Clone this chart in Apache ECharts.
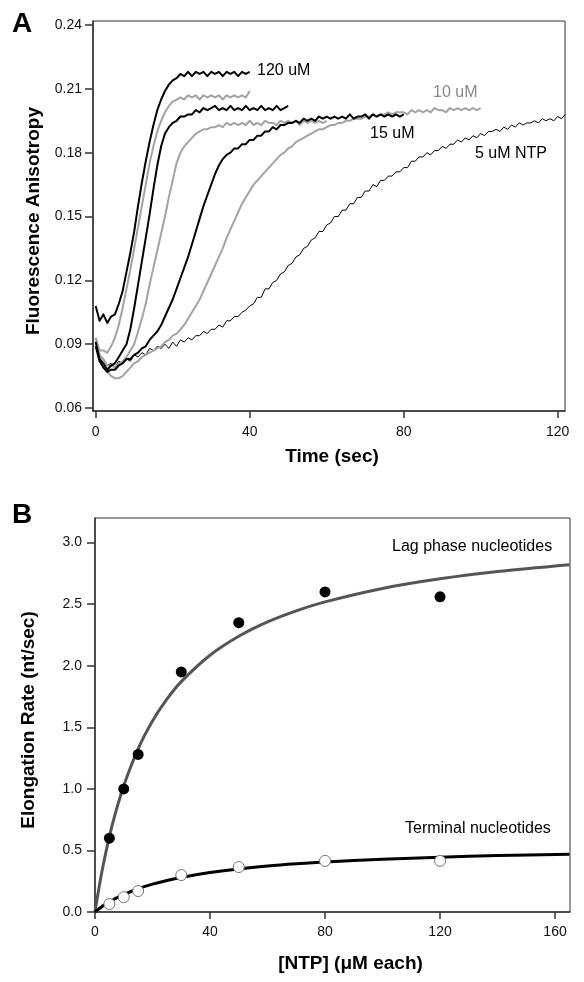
<!DOCTYPE html>
<html><head><meta charset="utf-8">
<script src="https://cdn.jsdelivr.net/npm/echarts@6/dist/echarts.min.js"></script>
<style>html,body{margin:0;padding:0;background:#fff}#c{width:584px;height:982px}</style>
</head><body><div id="c"></div>
<script>
// ---------- Panel A data: anisotropy traces, one sample per second starting at t = 0 ----------
const timeStep = 1;
const trace120 = [0.108,0.101,0.104,0.100,0.103,0.104,0.109,0.115,0.124,0.133,0.143,0.155,0.166,0.176,0.185,0.193,0.200,0.205,0.209,0.212,0.214,0.215,0.217,0.216,0.218,0.216,0.218,0.217,0.218,0.216,0.218,0.217,0.218,0.216,0.218,0.217,0.218,0.216,0.218,0.217,0.218];
const trace80 = [0.093,0.087,0.087,0.086,0.089,0.093,0.099,0.107,0.116,0.125,0.135,0.145,0.155,0.165,0.175,0.183,0.190,0.195,0.199,0.202,0.204,0.205,0.206,0.205,0.207,0.206,0.207,0.205,0.207,0.206,0.207,0.206,0.207,0.205,0.207,0.206,0.207,0.206,0.207,0.206,0.209];
const trace50 = [0.091,0.083,0.081,0.078,0.080,0.081,0.084,0.087,0.090,0.097,0.107,0.118,0.129,0.140,0.151,0.163,0.174,0.183,0.189,0.192,0.194,0.195,0.197,0.197,0.198,0.198,0.200,0.199,0.201,0.200,0.201,0.202,0.200,0.201,0.200,0.202,0.200,0.201,0.200,0.202,0.200,0.201,0.200,0.202,0.200,0.201,0.200,0.202,0.200,0.201,0.202];
const trace30 = [0.091,0.085,0.083,0.080,0.080,0.079,0.081,0.082,0.084,0.087,0.090,0.096,0.102,0.109,0.118,0.126,0.134,0.142,0.150,0.159,0.167,0.175,0.180,0.183,0.185,0.187,0.189,0.190,0.191,0.191,0.192,0.192,0.193,0.192,0.194,0.193,0.194,0.193,0.194,0.193,0.195,0.193,0.194,0.193,0.195,0.194,0.194,0.193,0.195,0.194,0.195,0.194,0.195,0.193,0.195,0.194,0.195,0.194,0.195,0.194,0.195];
const trace15 = [0.089,0.082,0.079,0.077,0.078,0.078,0.080,0.081,0.083,0.083,0.085,0.086,0.088,0.089,0.092,0.094,0.096,0.099,0.103,0.107,0.111,0.116,0.121,0.126,0.131,0.137,0.143,0.149,0.155,0.160,0.165,0.170,0.174,0.177,0.179,0.180,0.182,0.182,0.184,0.184,0.186,0.186,0.188,0.188,0.190,0.190,0.192,0.191,0.193,0.193,0.194,0.194,0.195,0.194,0.196,0.195,0.196,0.195,0.197,0.196,0.197,0.196,0.197,0.196,0.197,0.196,0.198,0.196,0.197,0.197,0.198,0.196,0.198,0.197,0.198,0.197,0.198,0.197,0.198,0.197,0.198];
const trace10 = [0.093,0.085,0.080,0.077,0.075,0.074,0.074,0.075,0.077,0.079,0.081,0.082,0.084,0.085,0.086,0.087,0.088,0.089,0.091,0.092,0.094,0.095,0.097,0.099,0.102,0.105,0.108,0.111,0.115,0.119,0.123,0.127,0.131,0.135,0.140,0.144,0.148,0.152,0.156,0.159,0.162,0.165,0.167,0.169,0.171,0.173,0.175,0.177,0.179,0.180,0.182,0.183,0.185,0.186,0.187,0.188,0.189,0.190,0.191,0.191,0.192,0.193,0.193,0.194,0.194,0.195,0.195,0.196,0.196,0.196,0.197,0.197,0.198,0.197,0.198,0.198,0.199,0.198,0.199,0.199,0.199,0.198,0.200,0.199,0.200,0.199,0.200,0.199,0.201,0.200,0.200,0.199,0.201,0.200,0.201,0.200,0.201,0.200,0.201,0.200,0.201];
const trace5 = [0.091,0.084,0.083,0.080,0.081,0.079,0.082,0.081,0.083,0.082,0.085,0.084,0.086,0.085,0.088,0.087,0.089,0.088,0.090,0.088,0.091,0.089,0.092,0.091,0.093,0.092,0.094,0.094,0.096,0.095,0.097,0.097,0.099,0.098,0.101,0.101,0.103,0.103,0.105,0.106,0.108,0.109,0.112,0.112,0.116,0.116,0.119,0.120,0.123,0.124,0.127,0.128,0.131,0.132,0.135,0.136,0.139,0.140,0.143,0.143,0.146,0.147,0.150,0.150,0.153,0.153,0.156,0.156,0.159,0.159,0.162,0.162,0.165,0.164,0.167,0.167,0.169,0.169,0.171,0.171,0.173,0.173,0.176,0.176,0.178,0.178,0.180,0.179,0.181,0.181,0.183,0.182,0.184,0.184,0.186,0.185,0.187,0.186,0.188,0.187,0.189,0.188,0.190,0.190,0.191,0.190,0.192,0.191,0.193,0.192,0.194,0.193,0.194,0.194,0.195,0.194,0.196,0.195,0.196,0.195,0.197,0.196,0.198];
const timeTicks = [0, 40, 80, 120];
const anisotropyTicks = [0.06, 0.09, 0.12, 0.15, 0.18, 0.21, 0.24];
const traceLabels = ['120 uM', '10 uM', '15 uM', '5 uM NTP'];

// ---------- Panel B data ----------
const ntpConc = [5, 10, 15, 30, 50, 80, 120];
const lagRate = [0.60, 1.00, 1.28, 1.95, 2.35, 2.60, 2.56];
const terminalRate = [0.065, 0.12, 0.17, 0.30, 0.365, 0.415, 0.415];
const fitConc = [0, 1, 2, 3, 5, 7, 10, 15, 20, 25, 30, 40, 50, 60, 70, 80, 100, 120, 140, 165];
const lagFit = [0, 0.145, 0.277, 0.398, 0.612, 0.795, 1.026, 1.325, 1.551, 1.728, 1.871, 2.085, 2.239, 2.356, 2.446, 2.519, 2.628, 2.706, 2.765, 2.821];
const terminalFit = [0, 0.019, 0.036, 0.054, 0.081, 0.108, 0.142, 0.189, 0.226, 0.256, 0.281, 0.320, 0.350, 0.373, 0.391, 0.406, 0.428, 0.445, 0.458, 0.470];
const ntpTicks = [0, 40, 80, 120, 160];
const rateTicks = [0, 0.5, 1.0, 1.5, 2.0, 2.5, 3.0];

// ---------- build ----------
const FONT = 'Liberation Sans, Arial, Helvetica, sans-serif';
const BLACK = '#000', GREY = '#a3a3a3', AX = '#333';
const toXY = arr => arr.map((v, i) => [i * timeStep, v]);
const pairs = (xs, ys) => xs.map((x, i) => [x, ys[i]]);

function traceSeries(arr, color, width) {
  return { type: 'line', xAxisIndex: 0, yAxisIndex: 0, data: toXY(arr), showSymbol: false,
    lineStyle: { color, width, join: 'round' }, silent: true };
}
const axisCommon = {
  axisLine: { show: true, onZero: false, lineStyle: { color: AX, width: 1.5 } },
  axisTick: { show: true, inside: false, length: 7, lineStyle: { color: AX, width: 1.5 } },
  splitLine: { show: false },
};

const chart = echarts.init(document.getElementById('c'), null, { renderer: 'canvas' });
chart.setOption({
  animation: false,
  backgroundColor: '#fff',
  grid: [
    { left: 93, top: 21, width: 472, height: 390, show: true, borderColor: AX, borderWidth: 1, backgroundColor: 'transparent' },
    { left: 95, top: 518, width: 475, height: 394, show: true, borderColor: AX, borderWidth: 1, backgroundColor: 'transparent' }
  ],
  xAxis: [
    Object.assign({}, axisCommon, { gridIndex: 0, type: 'value', min: -0.7, max: 121.9,
      axisTick: Object.assign({}, axisCommon.axisTick, { customValues: timeTicks }),
      axisLabel: { customValues: timeTicks, fontFamily: FONT, fontSize: 14, color: '#111', margin: 14 },
      name: 'Time (sec)', nameLocation: 'middle', nameGap: 36,
      nameTextStyle: { fontFamily: FONT, fontSize: 19, fontWeight: 'bold', color: '#000', padding: [0, 0, 0, 6] } }),
    Object.assign({}, axisCommon, { gridIndex: 1, type: 'value', min: 0, max: 165.2,
      axisTick: Object.assign({}, axisCommon.axisTick, { customValues: ntpTicks }),
      axisLabel: { customValues: ntpTicks, fontFamily: FONT, fontSize: 14, color: '#111', margin: 13 },
      name: '[NTP] (\u03bcM each)', nameLocation: 'middle', nameGap: 42,
      nameTextStyle: { fontFamily: FONT, fontSize: 19, fontWeight: 'bold', color: '#000', padding: [0, 0, 0, 36] } })
  ],
  yAxis: [
    Object.assign({}, axisCommon, { gridIndex: 0, type: 'value', min: 0.0586, max: 0.2419,
      axisTick: Object.assign({}, axisCommon.axisTick, { length: 8, customValues: anisotropyTicks }),
      axisLabel: { customValues: anisotropyTicks, formatter: v => v.toFixed(2), fontFamily: FONT, fontSize: 14, color: '#111', margin: 11 },
      name: 'Fluorescence Anisotropy', nameLocation: 'middle', nameGap: 50, nameRotate: 90,
      nameTextStyle: { fontFamily: FONT, fontSize: 19, fontWeight: 'bold', color: '#000', padding: [0, 10, 0, 0] } }),
    Object.assign({}, axisCommon, { gridIndex: 1, type: 'value', min: 0, max: 3.2,
      axisTick: Object.assign({}, axisCommon.axisTick, { length: 8, customValues: rateTicks }),
      axisLabel: { customValues: rateTicks, formatter: v => v.toFixed(1), fontFamily: FONT, fontSize: 14, color: '#111', margin: 13 },
      name: 'Elongation Rate (nt/sec)', nameLocation: 'middle', nameGap: 57, nameRotate: 90,
      nameTextStyle: { fontFamily: FONT, fontSize: 19, fontWeight: 'bold', color: '#000', padding: [0, 10, 0, 0] } })
  ],
  series: [
    traceSeries(trace5, BLACK, 1),
    traceSeries(trace10, GREY, 2),
    traceSeries(trace30, GREY, 2),
    traceSeries(trace80, GREY, 2),
    traceSeries(trace15, BLACK, 2),
    traceSeries(trace50, BLACK, 2),
    traceSeries(trace120, BLACK, 2),
    { type: 'line', xAxisIndex: 1, yAxisIndex: 1, data: pairs(fitConc, lagFit), smooth: 0.3, showSymbol: false,
      lineStyle: { color: '#555', width: 3 }, z: 2 },
    { type: 'line', xAxisIndex: 1, yAxisIndex: 1, data: pairs(fitConc, terminalFit), smooth: 0.3, showSymbol: false,
      lineStyle: { color: '#000', width: 3 }, z: 2 },
    { type: 'scatter', xAxisIndex: 1, yAxisIndex: 1, data: pairs(ntpConc, lagRate), symbol: 'circle', symbolSize: 11,
      itemStyle: { color: '#000', opacity: 1 }, z: 5 },
    { type: 'scatter', xAxisIndex: 1, yAxisIndex: 1, data: pairs(ntpConc, terminalRate), symbol: 'circle', symbolSize: 11,
      itemStyle: { color: '#fff', borderColor: '#777', borderWidth: 1, opacity: 1 }, z: 5 }
  ],
  graphic: [
    { type: 'text', left: 12, top: 10, style: { text: 'A', font: 'bold 28px ' + FONT, fill: '#000' } },
    { type: 'text', left: 12, top: 501, style: { text: 'B', font: 'bold 28px ' + FONT, fill: '#000' } },
    { type: 'text', x: 257, y: 71, style: { text: traceLabels[0], font: '16px ' + FONT, fill: '#000', textVerticalAlign: 'middle' } },
    { type: 'text', x: 433, y: 93, style: { text: traceLabels[1], font: '16px ' + FONT, fill: '#888', textVerticalAlign: 'middle' } },
    { type: 'text', x: 370, y: 134, style: { text: traceLabels[2], font: '16px ' + FONT, fill: '#000', textVerticalAlign: 'middle' } },
    { type: 'text', x: 475, y: 154, style: { text: traceLabels[3], font: '16px ' + FONT, fill: '#000', textVerticalAlign: 'middle' } },
    { type: 'text', x: 392, y: 547, style: { text: 'Lag phase nucleotides', font: '16px ' + FONT, fill: '#000', textVerticalAlign: 'middle' } },
    { type: 'text', x: 405, y: 829, style: { text: 'Terminal nucleotides', font: '16px ' + FONT, fill: '#000', textVerticalAlign: 'middle' } }
  ]
});
</script></body></html>
